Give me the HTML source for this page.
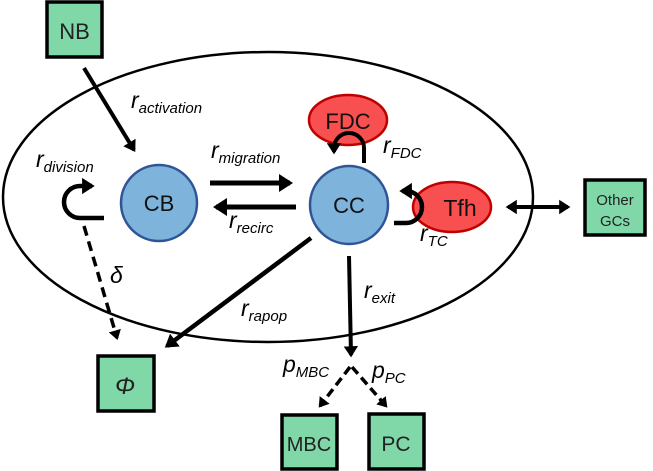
<!DOCTYPE html>
<html><head><style>
html,body{margin:0;padding:0;background:#fff;}
svg{display:block;}
text{font-family:"Liberation Sans","DejaVu Sans",sans-serif;}
.l{font-style:italic;font-size:23px;fill:#000;}
.s{font-size:15px;}
</style></head><body>
<svg width="653" height="471" viewBox="0 0 653 471" xmlns="http://www.w3.org/2000/svg">
<defs>
<marker id="a" markerWidth="4" markerHeight="4" refX="2.2" refY="2" orient="auto-start-reverse" markerUnits="strokeWidth"><path d="M0,0.2 L2.8,2 L0,3.8 Z" fill="#000"/></marker>
</defs>
<ellipse cx="268" cy="197" rx="265" ry="145" fill="none" stroke="#000" stroke-width="2.5"/>
<rect x="47" y="2" width="55" height="55" fill="#80d8a8" stroke="#000" stroke-width="3.5"/>
<text x="74.5" y="39" font-size="22" text-anchor="middle" fill="#222">NB</text>
<rect x="98" y="356" width="56" height="55" fill="#80d8a8" stroke="#000" stroke-width="3.5"/>
<text x="125" y="394" font-size="24" font-style="italic" font-family="Liberation Serif,serif" text-anchor="middle" fill="#222">Φ</text>
<rect x="282" y="415" width="55" height="54" fill="#80d8a8" stroke="#000" stroke-width="3.5"/>
<text x="309" y="451" font-size="20" text-anchor="middle" fill="#222">MBC</text>
<rect x="369" y="414" width="55" height="55" fill="#80d8a8" stroke="#000" stroke-width="3.5"/>
<text x="396" y="451" font-size="21" text-anchor="middle" fill="#222">PC</text>
<rect x="585" y="180" width="60" height="55" fill="#80d8a8" stroke="#000" stroke-width="3.5"/>
<text x="615" y="205" font-size="15" text-anchor="middle" fill="#222">Other</text>
<text x="615" y="226" font-size="15" text-anchor="middle" fill="#222">GCs</text>
<circle cx="159" cy="203" r="38" fill="#7eb3dc" stroke="#2f5597" stroke-width="2.5"/>
<text x="159" y="211" font-size="22" text-anchor="middle" fill="#111">CB</text>
<ellipse cx="348" cy="120" rx="39" ry="25" fill="#f85050" stroke="#c00000" stroke-width="2.5"/>
<text x="348" y="129" font-size="22" text-anchor="middle" fill="#111">FDC</text>
<circle cx="349" cy="205" r="39" fill="#7eb3dc" stroke="#2f5597" stroke-width="2.5"/>
<text x="349" y="213" font-size="22" text-anchor="middle" fill="#111">CC</text>
<ellipse cx="452" cy="207" rx="39" ry="25" fill="#f85050" stroke="#c00000" stroke-width="2.5"/>
<text x="460" y="216" font-size="23" text-anchor="middle" fill="#111">Tfh</text>
<line x1="84" y1="68" x2="134" y2="150" stroke="#000" stroke-width="4" marker-end="url(#a)"/>
<line x1="210" y1="183" x2="290" y2="183" stroke="#000" stroke-width="5" marker-end="url(#a)"/>
<line x1="296" y1="207" x2="216" y2="207" stroke="#000" stroke-width="5" marker-end="url(#a)"/>
<path d="M104,218 H80 A16,16 0 0 1 80,186 H92" fill="none" stroke="#000" stroke-width="4.5" marker-end="url(#a)"/>
<line x1="84" y1="226" x2="117" y2="338" stroke="#000" stroke-width="3.5" stroke-dasharray="10,6" marker-end="url(#a)"/>
<line x1="311" y1="238" x2="167" y2="346" stroke="#000" stroke-width="4.5" marker-end="url(#a)"/>
<line x1="349" y1="256" x2="351" y2="355" stroke="#000" stroke-width="4" marker-end="url(#a)"/>
<line x1="350" y1="367" x2="320" y2="406" stroke="#000" stroke-width="3.5" stroke-dasharray="9,5" marker-end="url(#a)"/>
<line x1="352" y1="367" x2="386" y2="406" stroke="#000" stroke-width="3.5" stroke-dasharray="9,5" marker-end="url(#a)"/>
<path d="M364,163 V148 A15,15 0 0 0 334,148 V152" fill="none" stroke="#000" stroke-width="4" marker-end="url(#a)"/>
<path d="M394,223 H406 A16,16 0 0 0 406,191 H402" fill="none" stroke="#000" stroke-width="4.5" marker-end="url(#a)"/>
<line x1="508" y1="207" x2="568" y2="207" stroke="#000" stroke-width="4" marker-start="url(#a)" marker-end="url(#a)"/>
<text class="l" x="131" y="108">r<tspan class="s" dy="5">activation</tspan></text>
<text class="l" x="36" y="167">r<tspan class="s" dy="5">division</tspan></text>
<text class="l" x="211" y="158">r<tspan class="s" dy="5">migration</tspan></text>
<text class="l" x="229" y="228">r<tspan class="s" dy="5">recirc</tspan></text>
<text class="l" x="383" y="153">r<tspan class="s" dy="5">FDC</tspan></text>
<text class="l" x="420" y="241">r<tspan class="s" dy="5">TC</tspan></text>
<text class="l" x="364" y="298">r<tspan class="s" dy="5">exit</tspan></text>
<text class="l" x="241" y="316">r<tspan class="s" dy="5">rapop</tspan></text>
<text class="l" x="110" y="283" font-family="Liberation Serif,serif" font-size="24">δ</text>
<text class="l" x="283" y="372">p<tspan class="s" dy="5">MBC</tspan></text>
<text class="l" x="372" y="378">p<tspan class="s" dy="5">PC</tspan></text>
</svg>
</body></html>
